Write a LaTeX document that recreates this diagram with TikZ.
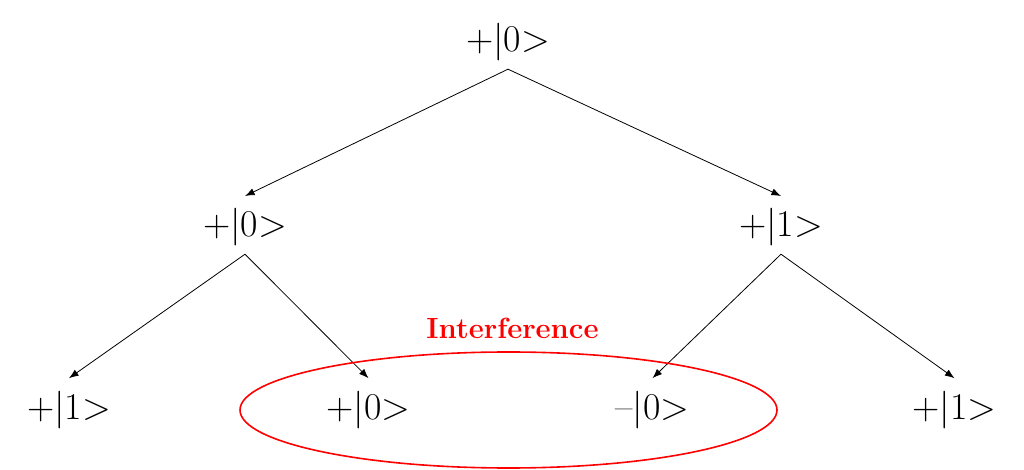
\documentclass[tikz,border=0pt]{standalone}
\usetikzlibrary{arrows.meta}

\begin{document}
\begin{tikzpicture}[
    x=0.5pt, y=-0.5pt,
    state/.style={font=\fontsize{18.9}{23}\selectfont, anchor=base, inner sep=4pt, text height=16.3pt, text depth=4.4pt},
    arrow/.style={-Latex},
    tag/.style={font=\fontsize{14.6}{18}\selectfont\bfseries, text=red, anchor=base, inner sep=0pt}
]
\useasboundingbox (0,0) rectangle (1024,470);

\node[state] (root) at (508,52) {+|0>};
\node[state] (left) at (245,237) {+|0>};
\node[state] (right) at (781,237) {+|1>};
\node[state] (ll) at (69,419.2) {+|1>};
\node[state] (lr) at (368.5,419.2) {+|0>};
\node[state] (rl) at (652.5,419.2) {\textendash|0>};
\node[state] (rr) at (954.5,419.2) {+|1>};

\draw[arrow] (root.south) -- (left.north);
\draw[arrow] (root.south) -- (right.north);
\draw[arrow] (left.south) -- (ll.north);
\draw[arrow] (left.south) -- (lr.north);
\draw[arrow] (right.south) -- (rl.north);
\draw[arrow] (right.south) -- (rr.north);

% interference region
\draw[red, line width=0.8pt] (508.5,410) ellipse [x radius=268.5, y radius=58];
\node[tag] (interf) at (512.5,338.7) {Interference};
\end{tikzpicture}
\end{document}
